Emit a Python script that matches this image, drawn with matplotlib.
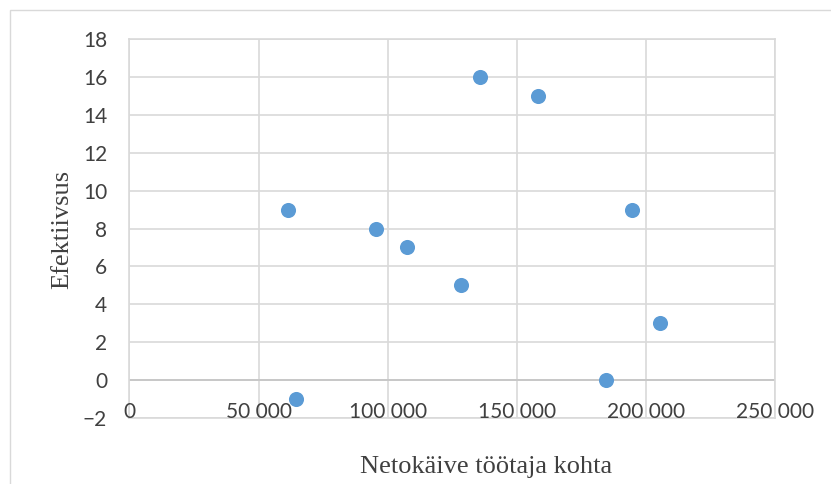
import matplotlib.pyplot as plt
from matplotlib.patches import Rectangle

# netokäive töötaja kohta vs efektiivsus
netokaive = [61500, 64500, 95300, 107500, 128500, 135800, 158000, 184600, 194400, 205200]
efektiivsus = [9, -1, 8, 7, 5, 16, 15, 0, 9, 3]

x_ticks = [0, 50000, 100000, 150000, 200000, 250000]
x_labels = ["0", "50 000", "100 000", "150 000", "200 000", "250 000"]
y_ticks = list(range(-2, 19, 2))

grid_col = "#d9d9d9"
text_col = "#404040"

fig = plt.figure(figsize=(8.31, 4.84), dpi=100)
# outer chart frame (Excel chart area border)
fig.patches.append(Rectangle((10 / 831, -0.1), 1.2, 1 - 10 / 484 + 0.1,
                             transform=fig.transFigure, fill=False,
                             edgecolor=grid_col, linewidth=1))

ax = fig.add_axes([129.3 / 831, 1 - 417.7 / 484, 646 / 831, 378.4 / 484])
ax.scatter(netokaive, efektiivsus, s=118, color="#5b9bd5", zorder=3, linewidths=0)

ax.set_xlim(0, 250000)
ax.set_ylim(-2, 18)
ax.set_yticks(y_ticks)
ax.set_xticks(x_ticks)

ax.grid(True, color=grid_col, linewidth=1.2, zorder=0)
ax.set_axisbelow(True)
for s in ax.spines.values():
    s.set_color(grid_col)
    s.set_linewidth(1.2)

ax.tick_params(axis="x", length=0, labelbottom=False)
ax.tick_params(axis="y", length=0, pad=16, colors=text_col, labelsize=15)
for lbl in ax.get_yticklabels():
    lbl.set_fontfamily("Lato")
# x tick labels sit under the y=0 line, like in Excel
for xv, lab in zip(x_ticks, x_labels):
    ax.annotate(lab, (xv, 0), xytext=(0, -16), textcoords="offset points",
                ha="center", va="top", fontsize=15, family="Lato", color=text_col)
ax.axhline(0, color="#c8c8c8", linewidth=1.4, zorder=1)

fig.text(486 / 831, 1 - 467 / 484, "Netokäive töötaja kohta", ha="center", va="center",
         fontsize=19, family="Liberation Serif", color=text_col)
fig.text(62 / 831, 1 - 229 / 484, "Efektiivsus", ha="center", va="center", rotation=90,
         fontsize=19, family="Liberation Serif", color=text_col)

fig.savefig("out.png", dpi=100)
